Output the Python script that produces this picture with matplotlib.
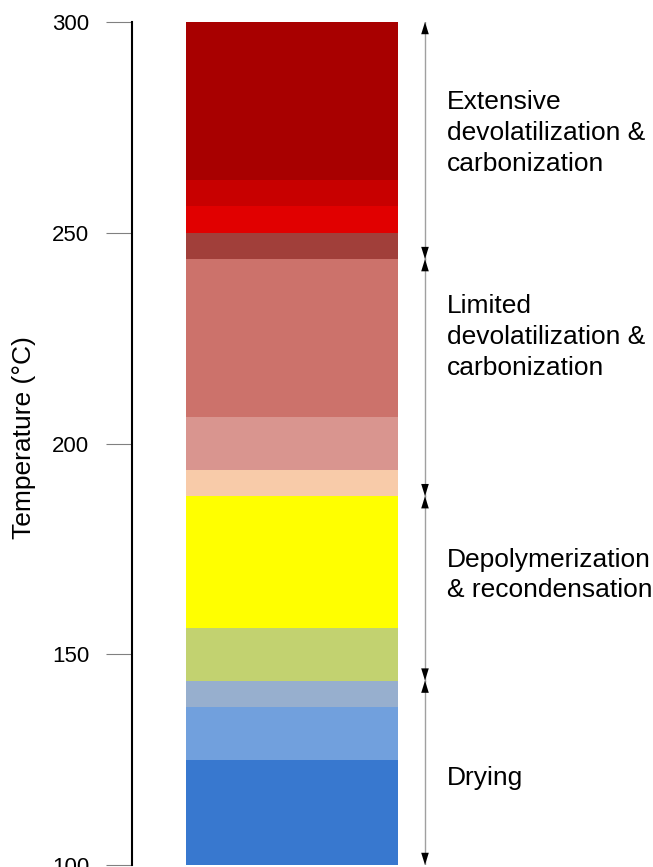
import matplotlib
matplotlib.use("Agg")
import matplotlib.pyplot as plt

# Data
band_bottoms = [262.5, 256.25, 250.0, 243.75, 206.25, 193.75, 187.5, 156.25, 143.75, 137.5, 125.0, 100.0]
band_tops = [300.0, 262.5, 256.25, 250.0, 243.75, 206.25, 193.75, 187.5, 156.25, 143.75, 137.5, 125.0]
band_colors = ["#A80000", "#C80000", "#E10000", "#A13F3A", "#CC726B", "#D9958F",
               "#F8CBA9", "#FFFF00", "#C2D270", "#97AFCE", "#71A0DD", "#3878CF"]

stage_starts = [300.0, 243.75, 187.5, 143.75]
stage_ends = [243.75, 187.5, 143.75, 100.0]
stage_labels = ["Extensive\ndevolatilization &\ncarbonization",
                "Limited\ndevolatilization &\ncarbonization",
                "Depolymerization\n& recondensation",
                "Drying"]
label_y = [273.7, 225.3, 168.8, 120.6]

yticks = [100, 150, 200, 250, 300]
ylabel = "Temperature (°C)"

plt.rcParams['font.family'] = ['Liberation Sans', 'DejaVu Sans']

W, H = 653, 867
PT = 72 / 100  # points per pixel at dpi 100
fig = plt.figure(figsize=(W / 100, H / 100), dpi=100)
ax = fig.add_axes([132 / W, 2 / H, (W - 132) / W, 843 / H])
ax.set_xlim(132, W)
ax.set_ylim(100, 300)

heights = [t - b for t, b in zip(band_tops, band_bottoms)]
ax.bar([292] * len(heights), heights, width=212, bottom=band_bottoms,
       color=band_colors, edgecolor="none", linewidth=0)

arrow_x = 425
for s, e in zip(stage_starts, stage_ends):
    ax.plot([arrow_x, arrow_x], [s, e], color="#A0A0A0", lw=1.0, zorder=2)
    for tip, base in ((s, s - 2.9), (e, e + 2.9)):
        ax.fill([arrow_x - 3.8, arrow_x + 3.8, arrow_x], [base, base, tip],
                color="black", lw=0, zorder=3)

for txt, y in zip(stage_labels, label_y):
    ax.text(447, y, txt, fontsize=19, va="center", ha="left",
            linespacing=1.36, color="black")

for side in ["top", "right", "bottom"]:
    ax.spines[side].set_visible(False)
ax.spines["left"].set_color("black")
ax.spines["left"].set_linewidth(1.5)
ax.set_xticks([])
ax.set_yticks(yticks)
ax.tick_params(axis="y", length=26 * PT, width=0.8, color="#808080", pad=17 * PT,
               labelsize=16, direction="out")
fig.text(24 / W, 1 - 437.5 / H, ylabel, fontsize=19, rotation=90,
         ha="center", va="center")

fig.savefig("out.png", dpi=100)
